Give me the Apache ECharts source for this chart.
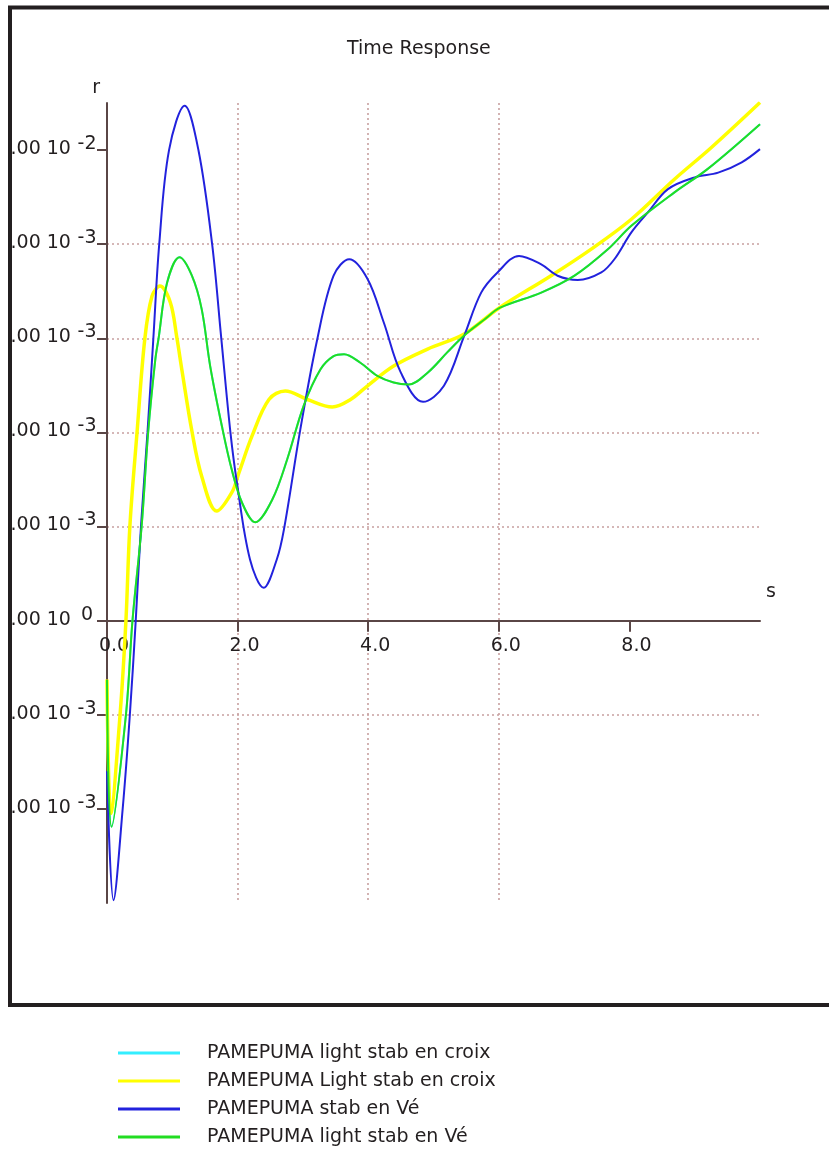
<!DOCTYPE html>
<html><head><meta charset="utf-8">
<script src="https://cdn.jsdelivr.net/npm/echarts@6/dist/echarts.min.js"></script>
<style>html,body{margin:0;padding:0;background:#fff}#c{width:829px;height:1167px}</style>
</head><body><div id="c"></div>
<script>
// ---- data (time in s, response r) ----
const seriesNames = [
  'PAMEPUMA light stab en croix',
  'PAMEPUMA Light stab en croix',
  'PAMEPUMA stab en Vé',
  'PAMEPUMA light stab en Vé'
];
const xTicks = [0, 2, 4, 6, 8];
const yTicks = [-4e-3, -2e-3, 0, 2e-3, 4e-3, 6e-3, 8e-3, 10e-3];

const cyanData = [
  [0,-1.26e-3],[0.07,-4.38e-3],[0.29,-2.0e-3],[0.39,0],[0.53,2.0e-3],[0.63,4.0e-3],[0.74,5.55e-3],
  [0.79,6.0e-3],[0.92,7.18e-3],[1.11,7.72e-3],[1.30,7.33e-3],[1.45,6.62e-3],[1.58,5.41e-3],
  [1.76,4.13e-3],[1.91,3.21e-3],[2.07,2.50e-3],[2.27,2.09e-3],[2.53,2.57e-3],[2.76,3.43e-3],
  [3.01,4.56e-3],[3.27,5.34e-3],[3.47,5.62e-3],[3.63,5.66e-3],[3.88,5.48e-3],[4.14,5.20e-3],
  [4.39,5.06e-3],[4.62,5.02e-3],[4.91,5.27e-3],[5.21,5.70e-3],[5.47,6.06e-3],[5.78,6.40e-3],
  [6.02,6.65e-3],[6.65,6.97e-3],[7.16,7.33e-3],[7.67,7.89e-3],[8.03,8.39e-3],[8.69,9.10e-3],
  [9.20,9.60e-3],[10.0,10.55e-3]
];
const yellowData = [
  [0,-1.25e-3],[0.06,-4.1e-3],[0.20,-2.0e-3],[0.29,0],[0.35,2.0e-3],[0.46,4.0e-3],[0.58,6.0e-3],
  [0.69,6.9e-3],[0.81,7.11e-3],[0.97,6.76e-3],[1.07,6.01e-3],[1.15,5.3e-3],[1.30,4.03e-3],
  [1.45,3.07e-3],[1.68,2.33e-3],[1.91,2.72e-3],[2.02,3.14e-3],[2.22,3.92e-3],[2.48,4.70e-3],
  [2.73,4.88e-3],[3.07,4.70e-3],[3.45,4.54e-3],[3.73,4.70e-3],[3.99,4.99e-3],[4.39,5.41e-3],
  [4.91,5.77e-3],[5.47,6.09e-3],[6.0,6.64e-3],[6.80,7.33e-3],[7.41,7.89e-3],[8.03,8.53e-3],
  [8.69,9.38e-3],[9.26,10.06e-3],[10.0,11.01e-3]
];
const blueData = [
  [0,-3.2e-3],[0.10,-5.94e-3],[0.24,-4.0e-3],[0.35,-2.0e-3],[0.44,0],[0.52,2.0e-3],[0.62,4.0e-3],
  [0.71,6.0e-3],[0.80,8.0e-3],[0.95,10.0e-3],[1.19,10.94e-3],[1.40,10.0e-3],[1.61,8.0e-3],
  [1.75,6.0e-3],[1.89,4.0e-3],[1.99,2.93e-3],[2.19,1.30e-3],[2.40,0.70e-3],[2.60,1.30e-3],
  [2.71,1.94e-3],[2.96,4.06e-3],[3.22,5.98e-3],[3.47,7.33e-3],[3.71,7.68e-3],[3.99,7.26e-3],
  [4.24,6.33e-3],[4.50,5.27e-3],[4.84,4.65e-3],[5.16,4.99e-3],[5.47,6.05e-3],[5.73,6.97e-3],
  [5.98,7.40e-3],[6.31,7.75e-3],[6.65,7.57e-3],[6.90,7.33e-3],[7.21,7.24e-3],[7.57,7.40e-3],
  [7.77,7.68e-3],[8.03,8.25e-3],[8.28,8.67e-3],[8.59,9.17e-3],[9.0,9.42e-3],[9.36,9.52e-3],
  [9.72,9.74e-3],[10.0,10.02e-3]
];
const greenData = [
  [0,-1.26e-3],[0.07,-4.38e-3],[0.29,-2.0e-3],[0.39,0],[0.53,2.0e-3],[0.63,4.0e-3],[0.74,5.55e-3],
  [0.79,6.0e-3],[0.92,7.18e-3],[1.11,7.72e-3],[1.30,7.33e-3],[1.45,6.62e-3],[1.58,5.41e-3],
  [1.76,4.13e-3],[1.91,3.21e-3],[2.07,2.50e-3],[2.27,2.09e-3],[2.53,2.57e-3],[2.76,3.43e-3],
  [3.01,4.56e-3],[3.27,5.34e-3],[3.47,5.62e-3],[3.63,5.66e-3],[3.88,5.48e-3],[4.14,5.20e-3],
  [4.39,5.06e-3],[4.62,5.02e-3],[4.91,5.27e-3],[5.21,5.70e-3],[5.47,6.06e-3],[5.78,6.40e-3],
  [6.02,6.65e-3],[6.65,6.97e-3],[7.16,7.33e-3],[7.67,7.89e-3],[8.03,8.39e-3],[8.69,9.10e-3],
  [9.20,9.60e-3],[10.0,10.55e-3]
];

// ---- styling ----
const ink = '#231f20';
const axisCol = '#5a4646';
const FF = 'DejaVu Sans';
const gridLine = { type: [2, 3], color: '#c8a0a0', width: 1.6 };
const W = 829, H = 1167;
const GRID = { left: 107, right: 69, top: 103, bottom: 264 };

function yFmt(v) {
  let e = 0, m = 0;
  if (Math.abs(v) > 1e-12) {
    e = Math.floor(Math.log10(Math.abs(v)) + 1e-9);
    m = v / Math.pow(10, e);
  }
  return '{m|' + m.toFixed(2) + ' 10 }{s|' + e + '}';
}

const chart = echarts.init(document.getElementById('c'), null, { renderer: 'canvas' });
const mk = (i, data, color, width) => ({
  name: seriesNames[i], type: 'line', data: data, showSymbol: false, smooth: 0.35,
  lineStyle: { color: color, width: width }, itemStyle: { color: color }
});
chart.setOption({
  animation: false,
  backgroundColor: '#ffffff',
  title: {
    text: 'Time Response', left: 342, top: 35,
    textStyle: { fontFamily: FF, fontSize: 19, fontWeight: 'normal', color: ink }
  },
  grid: Object.assign({ outerBoundsMode: 'none', containLabel: false }, GRID),
  xAxis: {
    type: 'value', min: 0, max: 10, interval: 2, position: 'bottom', offset: 0,
    name: 's', nameLocation: 'end', nameGap: 6,
    nameTextStyle: { fontFamily: FF, fontSize: 19, color: ink, verticalAlign: 'bottom', lineHeight: 58 },
    axisLine: { onZero: false, lineStyle: { color: axisCol, width: 2 } },
    axisTick: { show: true, length: 11, customValues: xTicks, lineStyle: { color: axisCol, width: 2 } },
    axisLabel: {
      customValues: xTicks, formatter: v => v.toFixed(1), margin: 16, padding: [0, 0, 0, 14],
      color: ink, fontFamily: FF, fontSize: 19
    },
    splitLine: { show: true, showMinLine: false, showMaxLine: false, lineStyle: gridLine }
  },
  yAxis: {
    type: 'value', min: -0.006, max: 0.011, interval: 0.002,
    name: 'r', nameLocation: 'end', nameGap: 5,
    nameTextStyle: { fontFamily: FF, fontSize: 19, color: ink, align: 'right', padding: [0, 7, 0, 0] },
    axisLine: { onZero: false, lineStyle: { color: axisCol, width: 2 } },
    axisTick: { show: true, length: 10, customValues: yTicks, lineStyle: { color: axisCol, width: 2 } },
    axisLabel: {
      customValues: yTicks, formatter: yFmt, margin: 10, padding: [0, 0, 7, 0],
      rich: {
        m: { fontFamily: FF, fontSize: 19, color: ink, lineHeight: 24, verticalAlign: 'bottom' },
        s: { fontFamily: FF, fontSize: 19, color: ink, verticalAlign: 'top', width: 20, align: 'left' }
      }
    },
    splitLine: { show: true, showMinLine: false, showMaxLine: false, lineStyle: gridLine }
  },
  legend: {
    orient: 'vertical', left: 113, top: 1038, itemWidth: 62, itemHeight: 3, itemGap: 8,
    icon: 'rect', data: seriesNames,
    textStyle: { fontFamily: FF, fontSize: 19, color: ink, lineHeight: 20, padding: [0, 0, 0, 22] }
  },
  graphic: [
    { type: 'rect', z: 99, shape: { x: 0, y: 0, width: 8, height: 1003 }, style: { fill: '#ffffff' } },
    { type: 'polyline', z: 100, shape: { points: [[840, 7.5], [10, 7.5], [10, 1005], [840, 1005]] },
      style: { stroke: ink, lineWidth: 4, fill: null } }
  ],
  series: [
    mk(0, cyanData, '#33eeff', 2),
    mk(1, yellowData, '#ffff00', 3.5),
    mk(2, blueData, '#2222dd', 2),
    mk(3, greenData, '#22dd22', 2)
  ]
});
// place the x axis on the r = 0 line (as the reference does)
const zeroY = chart.convertToPixel({ yAxisIndex: 0 }, 0);
chart.setOption({ xAxis: { offset: zeroY - (H - GRID.bottom) } });
</script></body></html>
